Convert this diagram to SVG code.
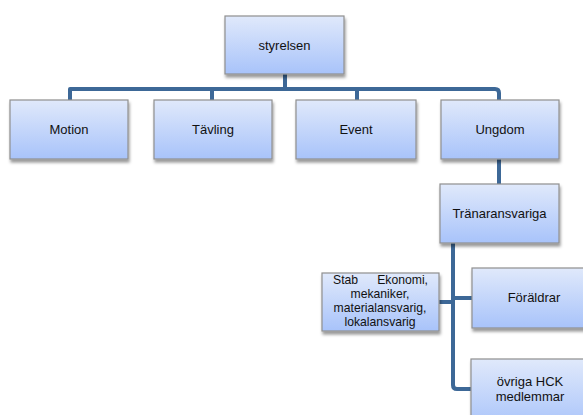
<svg xmlns="http://www.w3.org/2000/svg" width="583" height="415" viewBox="0 0 583 415">
<defs>
<linearGradient id="g" x1="0" y1="0" x2="0" y2="1">
<stop offset="0" stop-color="#e0e9fb"/>
<stop offset="1" stop-color="#a8c3fa"/>
</linearGradient>
<filter id="sh" x="-10%" y="-10%" width="130%" height="140%">
<feDropShadow dx="1" dy="3" stdDeviation="1.8" flood-color="#000" flood-opacity="0.4"/>
</filter>
<style>
.box{fill:url(#g);stroke:#8f8f8f;stroke-width:1.2;filter:url(#sh)}
.t{font-family:"Liberation Sans",Arial,sans-serif;font-size:13px;fill:#111;text-anchor:middle}
.s{font-size:12.2px}
.c{fill:none;stroke:#3d6897;stroke-width:4;stroke-linejoin:round}
</style>
</defs>
<g id="connectors">
<path class="c" d="M285 74V89"/>
<path class="c" d="M70 100V89H495Q499 89 499 93V100"/>
<path class="c" d="M212 89V100"/>
<path class="c" d="M357 89V100"/>
<path class="c" d="M499 159V184"/>
<path class="c" d="M453 243V385Q453 389 457 389H472"/>
<path class="c" d="M439 302H453"/>
<path class="c" d="M453 298H472"/>
</g>
<g id="styrelsen"><rect class="box" x="225" y="16" width="119" height="58"/><text class="t" x="284.5" y="50">styrelsen</text></g>
<g id="motion"><rect class="box" x="10" y="100" width="118" height="59"/><text class="t" x="69" y="134">Motion</text></g>
<g id="tavling"><rect class="box" x="154" y="100" width="118" height="59"/><text class="t" x="213" y="134">Tävling</text></g>
<g id="event"><rect class="box" x="296" y="100" width="120" height="59"/><text class="t" x="356" y="134">Event</text></g>
<g id="ungdom"><rect class="box" x="441" y="100" width="118" height="59"/><text class="t" x="500" y="134">Ungdom</text></g>
<g id="tranaransvariga"><rect class="box" x="440" y="184" width="119" height="59"/><text class="t" x="499.5" y="218">Tränaransvariga</text></g>
<g id="stab"><rect class="box" x="322" y="273" width="117" height="58"/>
<text class="t s"><tspan x="333" y="284" text-anchor="start">Stab</tspan><tspan x="428" y="284" text-anchor="end">Ekonomi,</tspan><tspan x="380" y="298">mekaniker,</tspan><tspan x="380" y="312">materialansvarig,</tspan><tspan x="380" y="326">lokalansvarig</tspan></text></g>
<g id="foraldrar"><rect class="box" x="472" y="268" width="124" height="60"/><text class="t" x="534" y="302">Föräldrar</text></g>
<g id="ovriga"><rect class="box" x="471" y="359" width="120" height="70"/><text class="t" x="530" y="386">övriga HCK</text><text class="t" x="530" y="401">medlemmar</text></g>
</svg>
